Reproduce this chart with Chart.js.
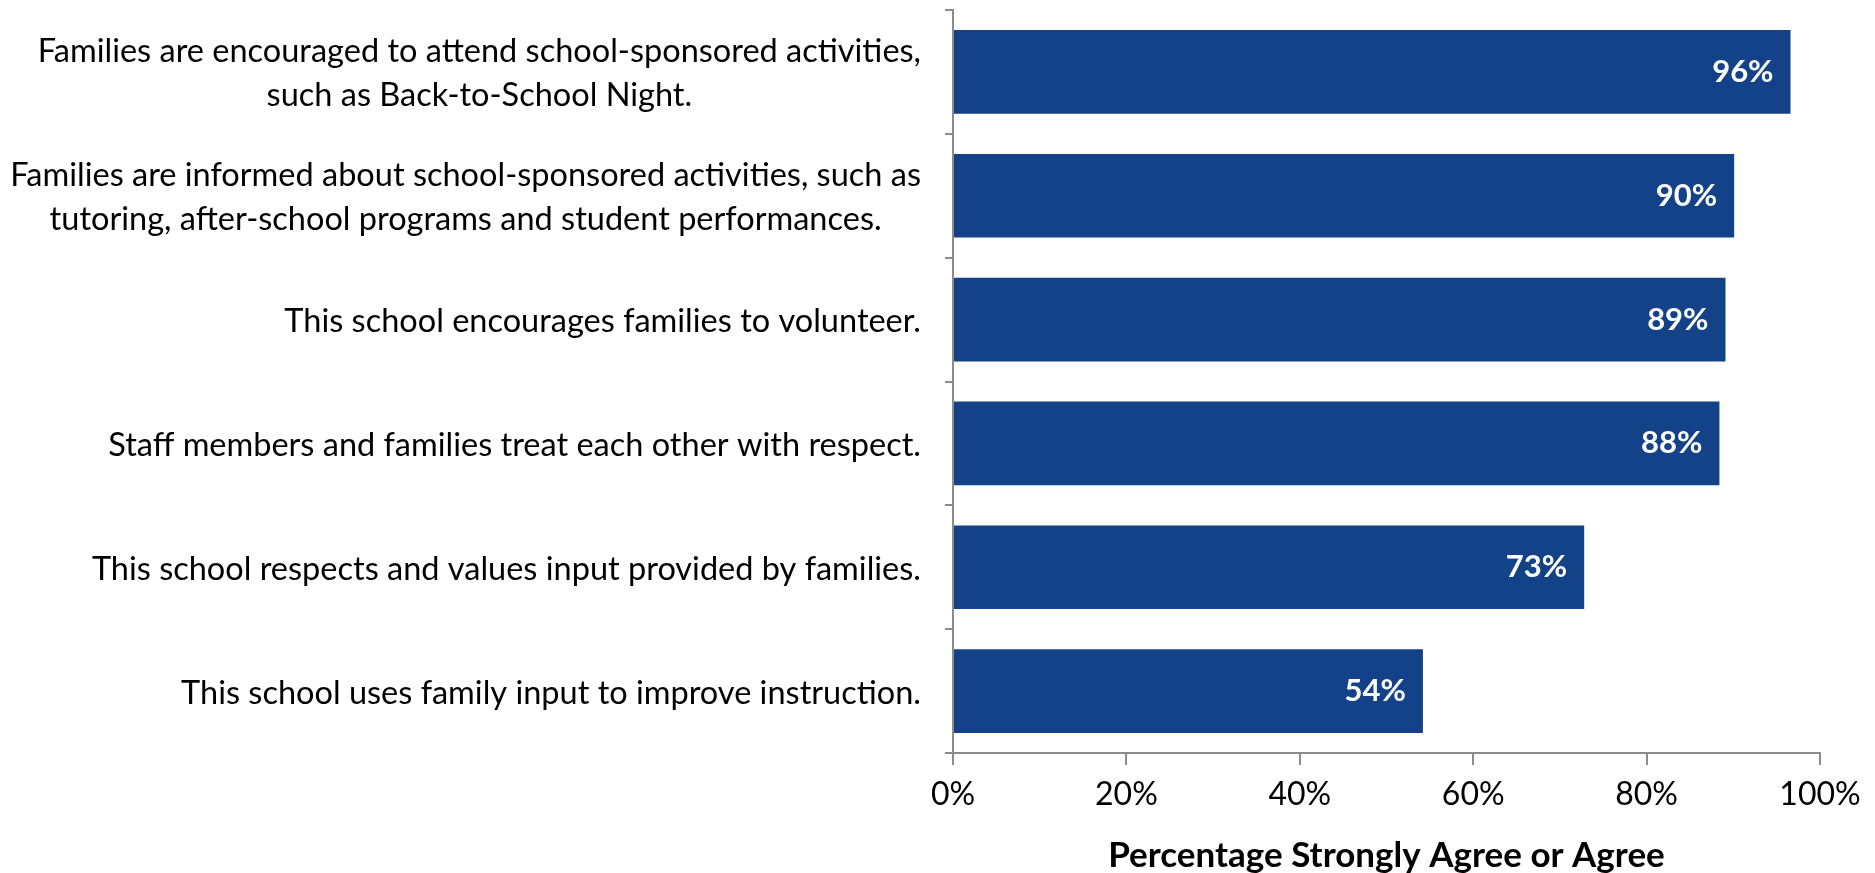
<!DOCTYPE html>
<html>
<head>
<meta charset="utf-8">
<script src="https://cdn.jsdelivr.net/npm/chart.js@4"></script>
<style>
  html, body { margin: 0; padding: 0; background: #fff; }
  canvas { display: block; }
</style>
</head>
<body>
<canvas id="chart" width="1875" height="873"></canvas>
<script>
const categories = [
  ["Families are encouraged to attend school-sponsored activities,", "such as Back-to-School Night."],
  ["Families are informed about school-sponsored activities, such as", "tutoring, after-school programs and student performances."],
  ["This school encourages families to volunteer."],
  ["Staff members and families treat each other with respect."],
  ["This school respects and values input provided by families."],
  ["This school uses family input to improve instruction."]
];
const agreeValues = [96.6, 90.1, 89.1, 88.4, 72.8, 54.2];
const agreeLabels = ["96%", "90%", "89%", "88%", "73%", "54%"];
const xTicks = [0, 20, 40, 60, 80, 100];
const axisTitle = "Percentage Strongly Agree or Agree";

const BAR_COLOR = "#134288";
const AXIS_COLOR = "#8c8c8c";
const FONT = "Lato, 'Open Sans', sans-serif";

// category labels: block right-aligned to the axis, lines centred within the block
const categoryLabels = {
  id: "categoryLabels",
  afterDraw(chart) {
    const ctx = chart.ctx;
    const yScale = chart.scales.y;
    const right = yScale.right - 32;
    const lineH = 44;
    ctx.save();
    ctx.font = "32.5px " + FONT;
    ctx.fillStyle = "#000";
    ctx.textAlign = "center";
    ctx.textBaseline = "middle";
    categories.forEach((lines, i) => {
      const y = yScale.getPixelForTick(i) + 2;
      const w = Math.max(...lines.map(l => ctx.measureText(l).width));
      const cx = right - w / 2;
      const y0 = y - (lines.length - 1) * lineH / 2;
      lines.forEach((l, j) => ctx.fillText(l, cx, y0 + j * lineH));
    });
    ctx.restore();
  }
};

// value labels inside the end of each bar
const valueLabels = {
  id: "valueLabels",
  afterDatasetsDraw(chart) {
    const ctx = chart.ctx;
    const meta = chart.getDatasetMeta(0);
    ctx.save();
    ctx.font = "bold 31px " + FONT;
    ctx.fillStyle = "#fff";
    ctx.textAlign = "right";
    ctx.textBaseline = "middle";
    meta.data.forEach((bar, i) => {
      ctx.fillText(agreeLabels[i], bar.x - 17, bar.y);
    });
    ctx.restore();
  }
};

new Chart(document.getElementById("chart"), {
  type: "bar",
  data: {
    labels: categories,
    datasets: [{
      data: agreeValues,
      backgroundColor: BAR_COLOR,
      borderWidth: 0,
      categoryPercentage: 0.675,
      barPercentage: 1
    }]
  },
  options: {
    indexAxis: "y",
    responsive: false,
    animation: false,
    devicePixelRatio: 1,
    layout: { padding: { top: 10, right: 55, left: 0, bottom: 0 } },
    plugins: {
      legend: { display: false },
      tooltip: { enabled: false }
    },
    scales: {
      x: {
        min: 0,
        max: 100,
        afterBuildTicks: scale => { scale.ticks = xTicks.map(v => ({ value: v })); },
        afterFit: scale => { scale.height = 120; },
        grid: {
          drawOnChartArea: false,
          drawTicks: true,
          tickLength: 12,
          color: AXIS_COLOR,
          lineWidth: 2
        },
        border: { color: AXIS_COLOR, width: 2 },
        ticks: {
          callback: v => v + "%",
          color: "#000",
          font: { family: FONT, size: 32 },
          padding: 10
        },
        title: {
          display: true,
          text: axisTitle,
          color: "#000",
          font: { family: FONT, size: 35, weight: "bold", lineHeight: 1 },
          padding: { top: 0, bottom: 0 }
        }
      },
      y: {
        afterFit: scale => { scale.width = 953; },
        grid: {
          offset: true,
          drawOnChartArea: false,
          drawTicks: true,
          tickLength: 8,
          color: AXIS_COLOR,
          lineWidth: 2
        },
        border: { color: AXIS_COLOR, width: 2 },
        ticks: { display: false }
      }
    }
  },
  plugins: [categoryLabels, valueLabels]
});
</script>
</body>
</html>
